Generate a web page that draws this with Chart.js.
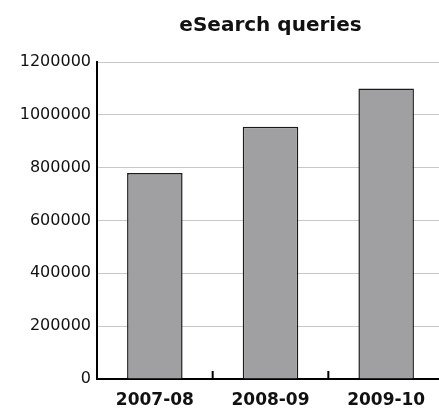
<!DOCTYPE html>
<html>
<head>
<meta charset="utf-8">
<script src="https://cdn.jsdelivr.net/npm/chart.js@4.4.1/dist/chart.umd.min.js"></script>
<style>
  html, body { margin: 0; padding: 0; background: #fff; overflow: hidden; }
  #myChart { display: block; }
</style>
</head>
<body>
<canvas id="myChart" width="444" height="409"></canvas>
<script>
// chart data
const categories = ["2007-08", "2008-09", "2009-10"];
const queries = [780000, 955000, 1100000];
const yMin = 0;
const yMax = 1200000;
const yStep = 200000;

// small upward tick marks between the categories on the x axis
const categoryTicks = {
    id: "categoryTicks",
    afterDatasetsDraw(chart) {
        const x = chart.scales.x;
        const ctx = chart.ctx;
        const bottom = chart.chartArea.bottom;
        ctx.save();
        ctx.strokeStyle = "#000";
        ctx.lineWidth = 2;
        for (let i = 1; i < categories.length; i++) {
            const px = (x.getPixelForValue(i - 1) + x.getPixelForValue(i)) / 2;
            ctx.beginPath();
            ctx.moveTo(px, bottom - 8);
            ctx.lineTo(px, bottom);
            ctx.stroke();
        }
        ctx.restore();
    }
};

const ctx = document.getElementById("myChart").getContext("2d");

new Chart(ctx, {
    type: "bar",
    data: {
        labels: categories,
        datasets: [{
            data: queries,
            backgroundColor: "#a0a0a2",
            borderColor: "#1a1a1a",
            borderWidth: 1.5,
            borderSkipped: "bottom",
            barPercentage: 0.48,
            categoryPercentage: 1
        }]
    },
    options: {
        responsive: false,
        animation: false,
        maintainAspectRatio: false,
        layout: { padding: 0 },
        plugins: {
            legend: { display: false },
            tooltip: { enabled: false },
            title: {
                display: true,
                text: "eSearch queries",
                fullSize: false,
                color: "#111",
                font: { family: "DejaVu Sans", size: 20, weight: "bold" },
                padding: { top: 14, bottom: 24 }
            }
        },
        scales: {
            x: {
                grid: { display: false, drawTicks: false },
                border: { display: true, color: "#000", width: 2 },
                ticks: {
                    color: "#111",
                    padding: 11,
                    font: { family: "DejaVu Sans", size: 17, weight: "bold" }
                },
                afterFit(scale) { scale.height = 30; }
            },
            y: {
                min: yMin,
                max: yMax,
                grid: { color: "#c8c8c8", lineWidth: 1, drawTicks: false },
                border: { display: true, color: "#000", width: 2 },
                ticks: {
                    stepSize: yStep,
                    color: "#111",
                    padding: 6,
                    font: { family: "DejaVu Sans", size: 16 },
                    callback: (v) => String(v)
                },
                afterFit(scale) { scale.width = 97; }
            }
        }
    },
    plugins: [categoryTicks]
});
</script>
</body>
</html>
